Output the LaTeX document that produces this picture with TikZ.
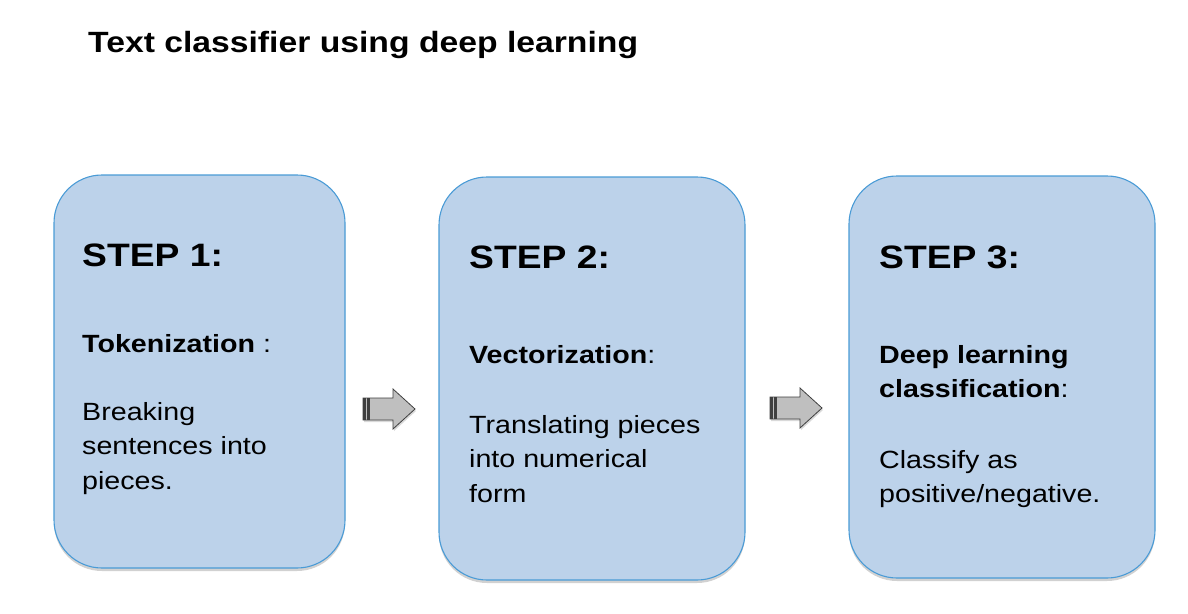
\documentclass[tikz,border=0pt]{standalone}
\usepackage{fontspec}
\setmainfont{Liberation Sans}[FakeStretch=1.15]
\usetikzlibrary{shadows}

\definecolor{boxfill}{HTML}{BCD2EA}
\definecolor{boxline}{HTML}{4A9BD6}
\definecolor{arrowfill}{HTML}{BFBFBF}
\definecolor{arrowline}{HTML}{3F3F3F}

% lines of a text block, aligned on the first baseline
\newcommand{\steplines}[1]{\begin{tabular}[t]{@{}l@{}}#1\end{tabular}}

\tikzset{
  stepbox/.style={draw=boxline, fill=boxfill, line width=1.1pt, rounded corners=48pt, inner sep=0pt,
    drop shadow={shadow xshift=0pt, shadow yshift=-3pt, opacity=0.3, fill=black!60}},
  titletext/.style={anchor=base west, inner sep=0pt, font=\fontsize{29.3}{35}\selectfont\bfseries},
  steplabel/.style={anchor=base west, inner sep=0pt, font=\fontsize{32.4}{38}\selectfont\bfseries},
  steptext/.style={anchor=base west, inner sep=0pt, font=\fontsize{24.9}{34.5}\selectfont},
}

\begin{document}
\begin{tikzpicture}[x=1pt, y=-1pt]
\useasboundingbox (0,0) rectangle (1188,613);

\node[titletext] (title) at (88,52) {Text classifier using deep learning};

% the three steps
\node[stepbox, minimum width=291pt, minimum height=393pt] (box1) at (199.5,371.5) {};
\node[stepbox, minimum width=306pt, minimum height=403pt] (box2) at (592,378.5) {};
\node[stepbox, minimum width=306pt, minimum height=402pt] (box3) at (1002,377) {};

\node[steplabel] (step1) at (82,266) {STEP 1:};
\node[steptext] (name1) at (82,352) {\textbf{Tokenization} :};
\node[steptext] (text1) at (82,420) {\steplines{Breaking\\sentences into\\pieces.}};

\node[steplabel] (step2) at (469,268) {STEP 2:};
\node[steptext] (name2) at (469,363) {\textbf{Vectorization}:};
\node[steptext] (text2) at (469,433) {\steplines{Translating pieces\\into numerical\\form}};

\node[steplabel] (step3) at (879,268) {STEP 3:};
\node[steptext] (name3) at (879,363) {\steplines{\textbf{Deep learning}\\\textbf{classification}:}};
\node[steptext] (text3) at (879,468) {\steplines{Classify as\\positive/negative.}};

% striped block arrows
\foreach \ax/\ay in {363/409,770/408} {
  \draw[arrowline, fill=arrowfill, line width=0.8pt, line join=miter,
    drop shadow={shadow xshift=1pt, shadow yshift=-2pt, opacity=0.25, fill=black!60}]
    (\ax,\ay-11) -- (\ax+30,\ay-11) -- (\ax+30,\ay-20) -- (\ax+52,\ay)
    -- (\ax+30,\ay+20) -- (\ax+30,\ay+11) -- (\ax,\ay+11) -- cycle;
  \fill[arrowline] (\ax,\ay-11) rectangle (\ax+2.5,\ay+11);
  \fill[arrowline] (\ax+4,\ay-11) rectangle (\ax+7,\ay+11);
}
\end{tikzpicture}
\end{document}
